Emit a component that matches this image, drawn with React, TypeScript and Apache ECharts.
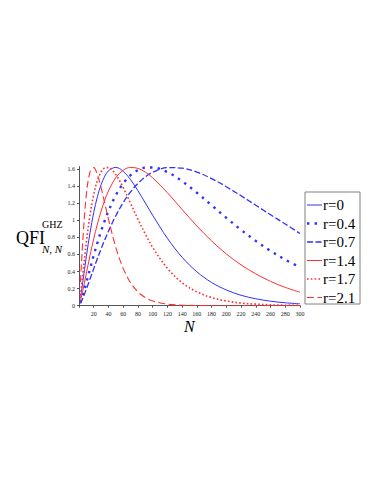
import React, { useEffect, useRef } from "react";
import * as echarts from "echarts";

const nValues = [2, 5, 10, 15, 20, 25, 30, 35, 40, 50, 60, 70, 80, 90, 100, 120, 140, 160, 180, 200, 220, 240, 260, 280, 300];

const r0 = [0.088, 0.268, 0.578, 0.857, 1.091, 1.277, 1.417, 1.517, 1.58, 1.62, 1.574, 1.476, 1.346, 1.203, 1.059, 0.789, 0.567, 0.397, 0.272, 0.184, 0.122, 0.081, 0.053, 0.034, 0.022];
const r04 = [0.038, 0.119, 0.274, 0.434, 0.59, 0.737, 0.873, 0.997, 1.108, 1.294, 1.432, 1.528, 1.587, 1.617, 1.619, 1.565, 1.458, 1.323, 1.176, 1.029, 0.888, 0.759, 0.642, 0.539, 0.45];
const r07 = [0.026, 0.083, 0.195, 0.314, 0.434, 0.552, 0.665, 0.772, 0.873, 1.054, 1.207, 1.332, 1.432, 1.508, 1.562, 1.617, 1.611, 1.565, 1.488, 1.393, 1.287, 1.176, 1.065, 0.957, 0.845];
const r14 = [0.054, 0.169, 0.381, 0.59, 0.784, 0.957, 1.108, 1.237, 1.344, 1.5, 1.587, 1.619, 1.608, 1.564, 1.498, 1.323, 1.126, 0.934, 0.759, 0.606, 0.478, 0.373, 0.285, 0.214, 0.158];
const r17 = [0.121, 0.359, 0.744, 1.063, 1.302, 1.466, 1.566, 1.613, 1.617, 1.535, 1.382, 1.199, 1.013, 0.839, 0.683, 0.437, 0.269, 0.162, 0.095, 0.055, 0.031, 0.018, 0.01, 0.006, 0.003];
const r21 = [0.278, 0.744, 1.302, 1.567, 1.617, 1.535, 1.382, 1.199, 1.013, 0.683, 0.437, 0.269, 0.162, 0.095, 0.055, 0.018, 0.006, 0.002, 0, 0, 0, 0, 0, 0, 0];

const seriesNames = ["r=0", "r=0.4", "r=0.7", "r=1.4", "r=1.7", "r=2.1"];
const seriesValues = [r0, r04, r07, r14, r17, r21];

const BLUE = "#2f2fff";
const RED = "#ff2f2f";
const SERIF = "'Liberation Serif', 'DejaVu Serif', serif";

const lineStyles: any[] = [
  { color: BLUE, width: 1, type: "solid" },
  { color: BLUE, width: 2.4, type: [2.4, 5.2], cap: "butt" },
  { color: BLUE, width: 1.3, type: [6, 2.5] },
  { color: RED, width: 1, type: "solid" },
  { color: RED, width: 1.6, type: [1.6, 2.2], cap: "butt" },
  { color: RED, width: 1.1, type: [7, 3.5] },
];

export default function App() {
  const ref = useRef<HTMLDivElement>(null);
  useEffect(() => {
    if (!ref.current) return;
    const chart = echarts.init(ref.current, undefined, { renderer: "svg" });
    const series = seriesNames.map((name, k) => ({
      name,
      type: "line",
      data: nValues.map((n, i) => [n, seriesValues[k][i]]),
      symbol: "none",
      showSymbol: false,
      smooth: 0.35,
      lineStyle: lineStyles[k],
      itemStyle: { color: lineStyles[k].color },
      z: 2,
    }));

    // legend drawn as graphic elements so line dash styles match
    const legendLeft = 305;
    const legendTop = 192;
    const rowGap = 18.5;
    const firstRow = 205;
    const legendEls: any[] = [
      {
        type: "rect",
        shape: { x: legendLeft, y: legendTop, width: 55, height: 112 },
        style: { fill: "#fff", stroke: "#808080", lineWidth: 1 },
        z: 10,
      },
    ];
    seriesNames.forEach((name, k) => {
      const ls = lineStyles[k];
      const y = firstRow + rowGap * k;
      legendEls.push({
        type: "line",
        shape: { x1: 307, y1: y, x2: 322, y2: y },
        style: {
          stroke: ls.color,
          lineWidth: ls.width,
          lineDash: ls.type === "solid" ? null : ls.type,
          lineCap: "butt",
        },
        z: 11,
      });
      legendEls.push({
        type: "text",
        x: 323,
        y: y,
        style: { text: name, font: `15px ${SERIF}`, fill: "#000", verticalAlign: "middle", align: "left" },
        z: 11,
      });
    });

    chart.setOption({
      animation: false,
      backgroundColor: "#ffffff",
      grid: { left: 79, right: 87, top: 166.5, bottom: 195.3, containLabel: false },
      xAxis: {
        type: "value",
        min: 0,
        max: 300,
        interval: 20,
        axisLine: { show: true, lineStyle: { color: "#555", width: 1 } },
        axisTick: { show: true, length: 2, lineStyle: { color: "#555" } },
        splitLine: { show: false },
        axisLabel: {
          fontSize: 6,
          fontFamily: SERIF,
          color: "#222",
          margin: 5,
          formatter: (v: number) => (v === 0 ? "" : String(v)),
        },
      },
      yAxis: {
        type: "value",
        min: 0,
        max: 1.63,
        interval: 0.2,
        axisLine: { show: true, lineStyle: { color: "#555", width: 1 } },
        axisTick: { show: true, length: 2, lineStyle: { color: "#555" } },
        splitLine: { show: false },
        axisLabel: {
          fontSize: 6,
          fontFamily: SERIF,
          color: "#222",
          margin: 4,
          showMaxLabel: false,
          formatter: (v: number) => String(Math.round(v * 10) / 10),
        },
      },
      graphic: [
        { type: "text", left: 16, top: 229, style: { text: "QFI", font: `18px ${SERIF}`, fill: "#000" } },
        { type: "text", left: 42, top: 219, style: { text: "GHZ", font: `10px ${SERIF}`, fill: "#000" } },
        { type: "text", left: 42, top: 243, style: { text: "N, N", font: `italic 11px ${SERIF}`, fill: "#000" } },
        { type: "text", left: 184, top: 318, style: { text: "N", font: `italic 16px ${SERIF}`, fill: "#000" } },
        ...legendEls,
      ],
      series,
    });
    return () => chart.dispose();
  }, []);
  return <div ref={ref} style={{ position: "fixed", left: 0, top: 0, width: 387, height: 501 }} />;
}
